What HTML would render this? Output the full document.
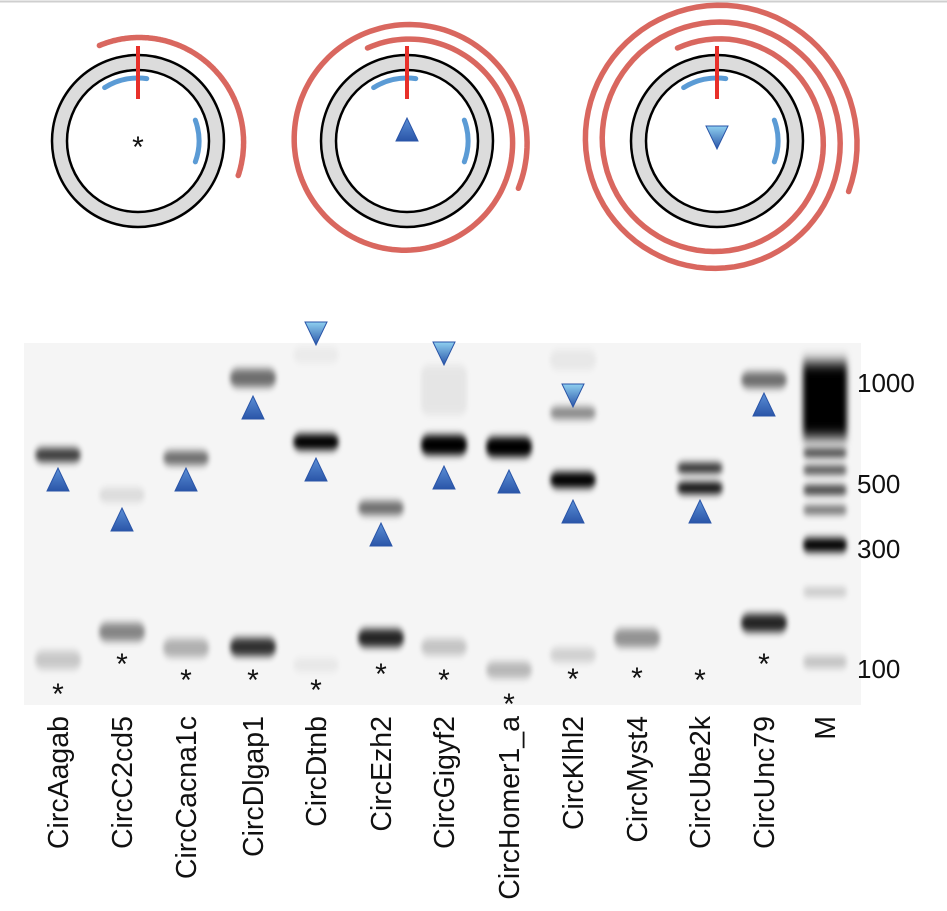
<!DOCTYPE html>
<html><head><meta charset="utf-8"><style>
html,body{margin:0;padding:0;background:#fff;width:947px;height:911px;overflow:hidden}
svg{display:block}
text{font-family:"Liberation Sans",Arial,sans-serif}
</style></head><body>
<svg id="s" width="947" height="911" viewBox="0 0 947 911" xmlns="http://www.w3.org/2000/svg">
<defs>
<filter id="b" x="-50%" y="-100%" width="200%" height="300%"><feGaussianBlur stdDeviation="2.5 4"/></filter>
<filter id="b2" x="-50%" y="-100%" width="200%" height="300%"><feGaussianBlur stdDeviation="3 7"/></filter>
<linearGradient id="tu" x1="0" y1="0" x2="0" y2="1"><stop offset="0" stop-color="#5b8fd6"/><stop offset="1" stop-color="#2a55a8"/></linearGradient>
<linearGradient id="td" x1="0" y1="0" x2="0" y2="1"><stop offset="0" stop-color="#8fd0f0"/><stop offset="1" stop-color="#2a55a8"/></linearGradient>
</defs>
<line x1="0" y1="1.5" x2="947" y2="1.5" stroke="#cfcfcf" stroke-width="2"/>
<rect x="24" y="343" width="837" height="362" fill="#f5f5f5"/>
<g id="gel"></g>
<g id="top"></g>
<g id="marks"></g>
<g font-size="26" fill="#111">
<text x="857" y="392">1000</text>
<text x="857" y="493">500</text>
<text x="857" y="558">300</text>
<text x="857" y="678">100</text>
</g>
<g id="labels" font-size="28.5" fill="#111"></g>
</svg>
<script>
const NS="http://www.w3.org/2000/svg";
function el(p,t,a,txt){const e=document.createElementNS(NS,t);for(const k in a)e.setAttribute(k,a[k]);if(txt)e.textContent=txt;document.getElementById(p).appendChild(e);return e;}
const lanes=[58,122,186,253,316,381,444,509,573,637,700,764];
const names=["CircAagab","CircC2cd5","CircCacna1c","CircDlgap1","CircDtnb","CircEzh2","CircGigyf2","CircHomer1_a","CircKlhl2","CircMyst4","CircUbe2k","CircUnc79"];
const bands=[[0,455,.75,14],[0,660,.18,18],[1,495,.1,14],[1,632,.45,18],[2,458,.55,14],[2,648,.28,18],
[3,378,.55,18],[3,647,.8,18],[4,442,1,16],[4,665,.05,14],[4,355,.04,16],[5,508,.55,14],[5,638,.85,18],
[6,445,1,20],[6,647,.2,16],[6,390,.06,50],[7,447,1,20],[7,670,.25,16],[8,413,.45,12],[8,480,1,16],[8,655,.15,14],[8,360,.05,20],
[9,638,.4,18],[10,468,.85,10],[10,488,.95,12],[11,380,.55,16],[11,623,.85,18]];
for(const [l,y,o,h] of bands){el("gel","rect",{x:lanes[l]-23,y:y-h/2,width:46,height:h,rx:8,fill:"#000",opacity:o,filter:"url(#b)"});}
const mx=825;
el("gel","rect",{x:mx-22,y:362,width:44,height:76,fill:"#000",opacity:1,filter:"url(#b2)"});
for(const [y,o,h] of [[453,.8,8],[470,.75,8],[490,.8,9],[510,.6,8],[545,1,14],[592,.2,8],[662,.2,12]]){
el("gel","rect",{x:mx-22,y:y-h/2,width:44,height:h,rx:6,fill:"#000",opacity:o,filter:"url(#b)"});}
function up(x,y){el("marks","polygon",{points:`${x-11},${y+11} ${x+11},${y+11} ${x},${y-12}`,fill:"url(#tu)",stroke:"#2a55a8","stroke-width":1});}
function dn(x,y){el("marks","polygon",{points:`${x-11},${y-11} ${x+11},${y-11} ${x},${y+12}`,fill:"url(#td)",stroke:"#2a55a8","stroke-width":1});}
[[0,480],[1,520],[2,480],[3,408],[4,470],[5,535],[6,478],[7,482],[8,512],[10,512],[11,405]].forEach(a=>up(lanes[a[0]],a[1]));
[[4,333],[6,353],[8,395]].forEach(a=>dn(lanes[a[0]],a[1]));
const ast=[690,660,676,676,686,670,676,700,675,674,676,660];
ast.forEach((y,i)=>el("marks","text",{x:lanes[i],y:y+14,"text-anchor":"middle","font-size":"30",fill:"#111"},"*"));
names.forEach((n,i)=>el("labels","text",{transform:`translate(${lanes[i]+10},716) rotate(-90)`,"text-anchor":"end"},n));
el("labels","text",{transform:`translate(${mx+10},716) rotate(-90)`,"text-anchor":"end"},"M");
function spiral(cx,cy,a0,r0,a1,r1){let d="";const n=200;for(let i=0;i<=n;i++){const a=a0+(a1-a0)*i/n,r=r0+(r1-r0)*i/n,t=a*Math.PI/180;d+=(i?"L":"M")+(cx+r*Math.cos(t)).toFixed(1)+","+(cy+r*Math.sin(t)).toFixed(1);}
el("top","path",{d,fill:"none",stroke:"#d9675f","stroke-width":5.5,"stroke-linecap":"round"});}
function arc(cx,cy,r,a0,a1,col,w){const t0=a0*Math.PI/180,t1=a1*Math.PI/180;
el("top","path",{d:`M${cx+r*Math.cos(t0)},${cy+r*Math.sin(t0)} A${r},${r} 0 0 1 ${cx+r*Math.cos(t1)},${cy+r*Math.sin(t1)}`,fill:"none",stroke:col,"stroke-width":w,"stroke-linecap":"round"});}
function circ(cx,cy){el("top","circle",{cx,cy,r:78.5,fill:"none",stroke:"#dcdcdc","stroke-width":15});
el("top","circle",{cx,cy,r:86,fill:"none",stroke:"#000","stroke-width":2.5});
el("top","circle",{cx,cy,r:71,fill:"none",stroke:"#000","stroke-width":2.5});
arc(cx,cy,63,-122,-82,"#5b9bd5",5);arc(cx,cy,61,-20,20,"#5b9bd5",5);
el("top","line",{x1:cx,y1:cy-95,x2:cx,y2:cy-42,stroke:"#e8302a","stroke-width":4});}
circ(138,141);spiral(138,141,-112,103,19,106);
el("top","text",{x:138,y:157,"text-anchor":"middle","font-size":"30",fill:"#111"},"*");
circ(407,141);spiral(407,141,-113,101,383,121);
up(407,130);
circ(717,141);spiral(717,141,-113,101,741,141);
dn(717,137);
</script>
</body></html>
